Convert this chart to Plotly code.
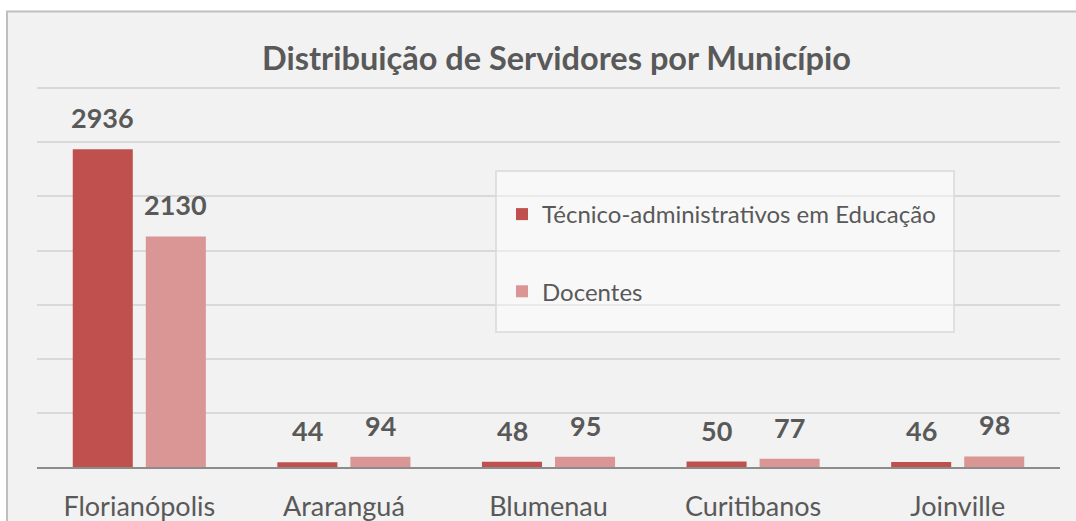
import plotly.graph_objects as go

categories = ["Florianópolis", "Araranguá", "Blumenau", "Curitibanos", "Joinville"]
tecnicos = [2936, 44, 48, 50, 46]
docentes = [2130, 94, 95, 77, 98]
series_names = ["Técnico-administrativos em Educação", "Docentes"]
colors = ["#C0504D", "#D99694"]
title_text = "Distribuição de Servidores por Município"

FONT = "Lato"
GRAY = "#595959"

W, H = 1076, 521
ML, MR, MT, MB = 37, 16, 86, 54
PW, PH = W - ML - MR, H - MT - MB


def px_x(p):
    return (p - ML) / PW


def px_y(p):
    return 1 - (p - MT) / PH


fig = go.Figure()
for i, (name, vals) in enumerate(zip(series_names, [tecnicos, docentes])):
    fig.add_trace(go.Bar(
        x=categories, y=vals, name=name,
        marker=dict(color=colors[i], line=dict(width=0)),
        legendgroup=f"g{i}",
        hoverinfo="x+y+name",
    ))

annotations = []
for i, vals in enumerate([tecnicos, docentes]):
    shift = -36.5 if i == 0 else 36.5
    for c, v in zip(categories, vals):
        annotations.append(dict(
            x=c, y=v, xref="x", yref="y", text=f"<b>{v}</b>",
            showarrow=False, xshift=shift, yshift=13, yanchor="bottom",
            font=dict(family=FONT, size=27, color=GRAY),
        ))

annotations.append(dict(
    text=f"<b>{title_text}</b>", xref="paper", yref="paper",
    x=px_x(556), y=px_y(57), xanchor="center", yanchor="middle",
    showarrow=False, font=dict(family=FONT, size=32.5, color=GRAY),
))

shapes = [
    dict(type="rect", xref="paper", yref="paper",
         x0=px_x(7), x1=px_x(1090), y0=px_y(540), y1=px_y(11.5),
         line=dict(color="#BFBFBF", width=2), fillcolor="#F2F2F2", layer="below"),
    dict(type="rect", xref="paper", yref="paper",
         x0=px_x(496), x1=px_x(954), y0=px_y(332), y1=px_y(171),
         line=dict(color="#D9D9D9", width=1.5), fillcolor="rgba(255,255,255,0.45)", layer="above"),
]

fig.update_layout(
    width=W, height=H,
    margin=dict(l=ML, r=MR, t=MT, b=MB, autoexpand=False),
    paper_bgcolor="white", plot_bgcolor="rgba(0,0,0,0)",
    barmode="group", bargap=0.286, bargroupgap=0.178,
    showlegend=True,
    legend=dict(
        x=px_x(502), y=px_y(192), xanchor="left", yanchor="top",
        bgcolor="rgba(0,0,0,0)", borderwidth=0,
        font=dict(family=FONT, size=24, color=GRAY),
        tracegroupgap=43, traceorder="grouped",
    ),
    annotations=annotations,
    shapes=shapes,
    font=dict(family=FONT, color=GRAY),
)
fig.update_xaxes(
    showline=True, linecolor="#8C8C8C", linewidth=2, automargin=False,
    ticks="", showgrid=False, tickfont=dict(family=FONT, size=27, color=GRAY),
    ticklabelstandoff=15, fixedrange=True,
)
fig.update_yaxes(
    range=[0, 3520], dtick=500, showticklabels=False, showgrid=True, automargin=False,
    gridcolor="#D9D9D9", gridwidth=1.5, zeroline=False, ticks="", fixedrange=True,
)

fig.write_html(
    "out.html",
    config={"displayModeBar": False},
    post_script="document.body.style.margin='0';document.body.style.overflow='hidden';",
)
